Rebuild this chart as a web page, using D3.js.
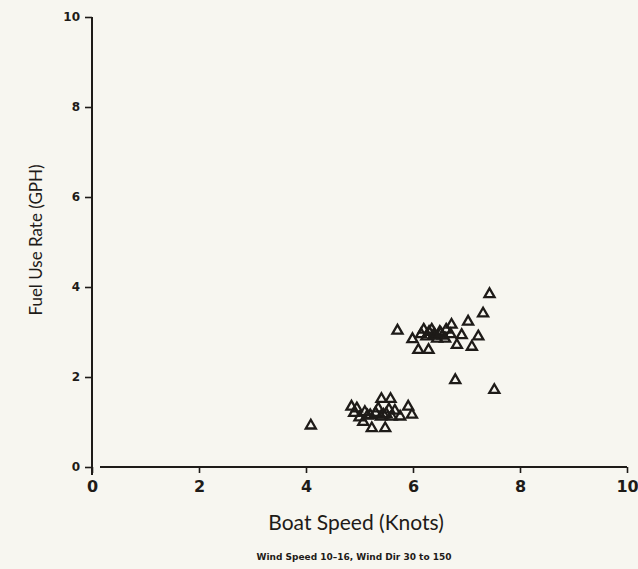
<!DOCTYPE html>
<html>
<head>
<meta charset="utf-8">
<script src="https://cdn.jsdelivr.net/npm/d3@7"></script>
<style>
  html, body { margin: 0; padding: 0; background: #f7f6f0; }
  svg { display: block; }
</style>
</head>
<body>
<svg id="chart" width="638" height="569"></svg>
<script>
// boat speed (knots) vs fuel use rate (GPH)
const speedKnots = [
  5.71, 5.99, 6.10, 6.29, 6.15, 6.20, 6.30, 6.40, 6.50, 6.55, 6.62, 6.70, 6.25, 6.45, 6.35, 6.60,
  6.72, 6.82, 6.91, 7.03, 7.10, 7.22, 7.31, 7.43, 6.79, 7.52, 6.38, 6.52,
  4.09, 5.41, 5.58, 4.85, 4.90, 4.95, 5.00, 5.07, 5.23, 5.48, 5.10, 5.20, 5.30, 5.40, 5.50,
  5.60, 5.66, 5.76, 5.91, 5.98, 5.35, 5.55, 5.15, 5.45
];
const fuelGph = [
  3.03, 2.84, 2.60, 2.60, 2.95, 3.05, 3.00, 2.95, 3.00, 2.92, 3.05, 2.95, 2.90, 2.85, 3.05, 2.85,
  3.16, 2.71, 2.93, 3.23, 2.67, 2.90, 3.41, 3.84, 1.93, 1.71, 2.92, 2.97,
  0.92, 1.51, 1.51, 1.34, 1.20, 1.30, 1.10, 1.00, 0.86, 0.86, 1.22, 1.15, 1.20, 1.12, 1.18,
  1.12, 1.25, 1.12, 1.34, 1.16, 1.30, 1.28, 1.14, 1.16
];
const xTicks = [0, 2, 4, 6, 8, 10];
const yTicks = [0, 2, 4, 6, 8, 10];

const data = speedKnots.map((s, i) => ({ speed: s, fuel: fuelGph[i] }));

const svg = d3.select("#chart");
const ink = "#1e1b18";

const x = d3.scaleLinear().domain([0, 10]).range([92, 627]);
const y = d3.scaleLinear().domain([0, 10]).range([467, 17]);

// Y axis
const yAxis = svg.append("g")
    .attr("transform", `translate(${x(0)},0)`)
    .call(d3.axisLeft(y).tickValues(yTicks).tickSize(7).tickPadding(5).tickFormat(d3.format("d")));
yAxis.select(".domain").attr("stroke", ink).attr("stroke-width", 2)
    .attr("d", `M0,${y(10)}V${y(0) + 8}`);
yAxis.selectAll(".tick line").attr("stroke", ink).attr("stroke-width", 1.6);
yAxis.selectAll("text")
    .style("font-family", "'DejaVu Sans', sans-serif")
    .style("font-weight", "bold")
    .style("font-size", "12px")
    .attr("fill", ink);

// X axis
const xAxis = svg.append("g")
    .attr("transform", `translate(0,${y(0)})`)
    .call(d3.axisBottom(x).tickValues(xTicks).tickSize(6).tickPadding(8).tickFormat(d3.format("d")));
xAxis.select(".domain").attr("stroke", ink).attr("stroke-width", 2)
    .attr("d", `M${x(0) + 8},0H${x(10)}`);
xAxis.selectAll(".tick line").attr("stroke", ink).attr("stroke-width", 1.6);
xAxis.selectAll("text")
    .style("font-family", "'DejaVu Sans', sans-serif")
    .style("font-weight", "bold")
    .style("font-size", "16px")
    .attr("fill", ink);

// points
const tri = d3.symbol().type(d3.symbolTriangle).size(44);
svg.append("g")
  .selectAll("path")
  .data(data)
  .join("path")
    .attr("d", tri)
    .attr("transform", d => `translate(${x(d.speed)},${y(d.fuel)})`)
    .attr("fill", "none")
    .attr("stroke", ink)
    .attr("stroke-width", 2.3);

// axis titles
svg.append("text")
    .attr("x", 356)
    .attr("y", 530)
    .attr("text-anchor", "middle")
    .style("font-family", "Lato, sans-serif")
    .style("font-size", "21px")
    .attr("fill", ink)
    .text("Boat Speed (Knots)");

svg.append("text")
    .attr("transform", "translate(42,240) rotate(-90)")
    .attr("text-anchor", "middle")
    .style("font-family", "Lato, sans-serif")
    .style("font-size", "17px")
    .attr("fill", ink)
    .text("Fuel Use Rate (GPH)");

svg.append("text")
    .attr("x", 354)
    .attr("y", 560)
    .attr("text-anchor", "middle")
    .style("font-family", "'DejaVu Sans', sans-serif")
    .style("font-weight", "bold")
    .style("font-size", "9px")
    .attr("fill", ink)
    .text("Wind Speed 10\u201316, Wind Dir 30 to 150");
</script>
</body>
</html>
